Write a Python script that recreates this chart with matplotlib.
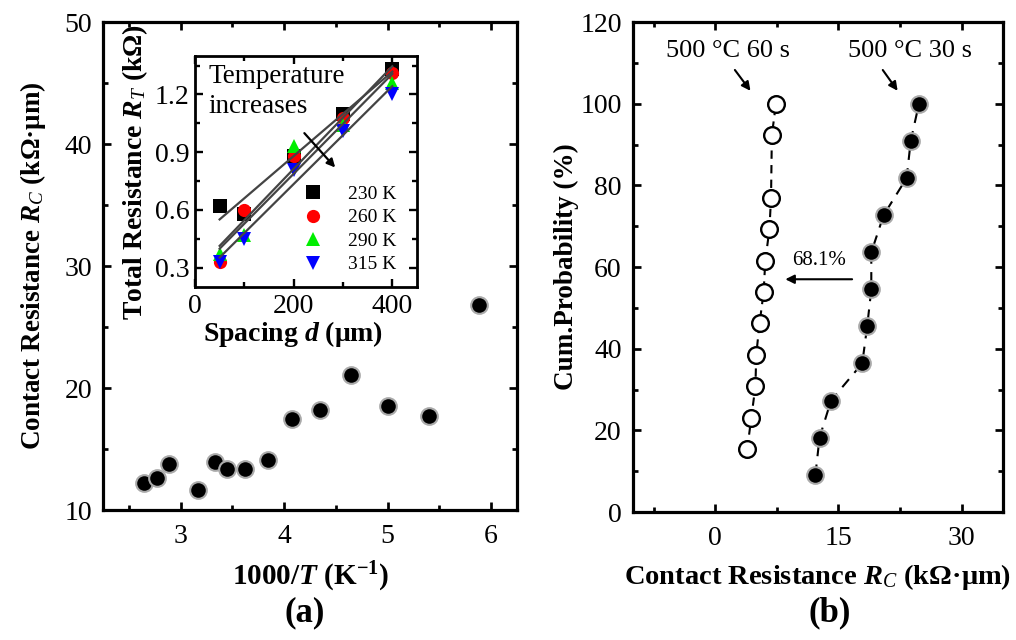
import matplotlib
matplotlib.use("Agg")
import matplotlib.pyplot as plt
import numpy as np

plt.rcParams['font.family'] = ['Liberation Serif', 'DejaVu Serif']
plt.rcParams['mathtext.fontset'] = 'custom'
plt.rcParams['mathtext.rm'] = 'Liberation Serif'
plt.rcParams['mathtext.it'] = 'Liberation Serif:italic'
plt.rcParams['mathtext.bf'] = 'Liberation Serif:bold'
plt.rcParams['mathtext.bfit'] = 'Liberation Serif:italic:bold'

# (a) contact resistance vs inverse temperature
inv_temp = [2.65, 2.77, 2.89, 3.17, 3.33, 3.45, 3.62, 3.84, 4.08, 4.35, 4.65, 5.00, 5.40, 5.88]
rc_temp = [12.2, 12.6, 13.8, 11.6, 13.9, 13.4, 13.4, 14.1, 17.5, 18.2, 21.1, 18.5, 17.7, 26.8]

# inset: TLM total resistance vs spacing
spacing = [50, 100, 200, 300, 400]
temp_labels = ['230 K', '260 K', '290 K', '315 K']
rt_230 = [0.62, 0.58, 0.88, 1.10, 1.33]
rt_260 = [0.33, 0.60, 0.88, 1.08, 1.31]
rt_290 = [0.37, 0.47, 0.93, 1.04, 1.26]
rt_315 = [0.33, 0.45, 0.81, 1.01, 1.20]

# (b) cumulative probability of contact resistance
prob_30s = [9.1, 18.2, 27.3, 36.4, 45.5, 54.5, 63.6, 72.7, 81.8, 90.9, 100.0]
rc_30s = [12.2, 12.7, 14.1, 17.9, 18.5, 19.0, 19.0, 20.5, 23.3, 23.8, 24.8]
prob_60s = [15.4, 23.1, 30.8, 38.5, 46.2, 53.8, 61.5, 69.2, 76.9, 92.3, 100.0]
rc_60s = [3.9, 4.4, 4.9, 5.0, 5.4, 5.9, 6.1, 6.6, 6.8, 6.9, 7.4]

TICK_FS = 20
LABEL_FS = 19.5


def style_axes(ax, lw=2.3, size=TICK_FS):
    for sp in ax.spines.values():
        sp.set_linewidth(lw)
    ax.tick_params(which='both', direction='in', top=True, right=True,
                   labelsize=size, width=lw * 0.85)
    ax.tick_params(which='major', length=6)
    ax.tick_params(which='minor', length=3.5)


fig = plt.figure(figsize=(10.16, 6.4), dpi=100)

# ---- panel (a)
ax1 = fig.add_axes([0.1014, 0.2031, 0.4075, 0.7625])
ax1.plot(inv_temp, rc_temp, 'o', ms=12, mfc='black', mec='#aaaaaa', mew=1.5)
ax1.set_xlim(2.25, 6.25)
ax1.set_ylim(10, 50)
ax1.set_xticks([3, 4, 5, 6])
ax1.set_xticks(np.arange(2.5, 6.01, 0.5), minor=True)
ax1.set_yticks([10, 20, 30, 40, 50])
ax1.set_yticks(np.arange(10, 50.1, 5), minor=True)
style_axes(ax1)
ax1.tick_params(axis='x', pad=10)
ax1.tick_params(axis='y', pad=8)
ax1.set_xlabel(r'1000/$\mathbfit{T}$ (K$^{\mathbf{-1}}$)', fontsize=21,
               fontweight='bold', labelpad=8)
ax1.set_ylabel(r'Contact Resistance $\mathbfit{R}_{\mathit{C}}$ (kΩ·μm)',
               fontsize=LABEL_FS, fontweight='bold', labelpad=12)
fig.text(0.30, 0.042, '(a)', fontsize=25, fontweight='bold', ha='center', va='center')

# ---- inset
ax_in = fig.add_axes([0.1919, 0.5516, 0.2185, 0.3609])
series = [
    (rt_230, 's', 'black'),
    (rt_260, 'o', 'red'),
    (rt_290, '^', '#00ee00'),
    (rt_315, 'v', 'blue'),
]
xs = np.array(spacing, dtype=float)
for (vals, mk, col), lab in zip(series, temp_labels):
    slope, icpt = np.polyfit(xs, vals, 1)
    ax_in.plot([xs[0], xs[-1]], [icpt + slope * xs[0], icpt + slope * xs[-1]],
               color='#444444', lw=1.6, zorder=3)
for (vals, mk, col), lab in zip(series, temp_labels):
    ax_in.plot(spacing, vals, mk, color=col, ms=9.5, mew=0, label=lab, zorder=2)
ax_in.set_xlim(0, 450)
ax_in.set_ylim(0.2, 1.4)
ax_in.set_xticks([0, 200, 400])
ax_in.set_xticks([100, 300], minor=True)
ax_in.set_yticks([0.3, 0.6, 0.9, 1.2])
ax_in.set_yticks([0.45, 0.75, 1.05, 1.35], minor=True)
style_axes(ax_in, lw=2.0, size=20)
ax_in.tick_params(axis='x', pad=5)
ax_in.tick_params(axis='y', pad=4)
ax_in.set_xlabel(r'Spacing $\mathbfit{d}$ (μm)', fontsize=20, fontweight='bold')
ax_in.xaxis.set_label_coords(0.44, -0.14)
ax_in.set_ylabel(r'Total Resistance $\mathbfit{R}_{\mathit{T}}$ (kΩ)',
                 fontsize=20, fontweight='bold', labelpad=3)
ax_in.legend(loc='lower right', bbox_to_anchor=(0.97, 0.0), frameon=False,
             fontsize=14, handletextpad=1.3, labelspacing=0.3, borderpad=0.2,
             handlelength=1.0)
ax_in.text(0.06, 0.965, 'Temperature\nincreases', transform=ax_in.transAxes,
           fontsize=19.5, ha='left', va='top', linespacing=1.25)
ax_in.annotate('', xy=(288, 0.81), xytext=(218, 1.01),
               arrowprops=dict(arrowstyle='-|>', color='black', lw=1.6,
                               mutation_scale=12))

# ---- panel (b)
ax2 = fig.add_axes([0.623, 0.2, 0.364, 0.7656])
ax2.plot(rc_60s, prob_60s, 'o', ls=(0, (4, 3)), color='black', lw=1.5,
         ms=12, mfc='white', mec='black', mew=1.7)
ax2.plot(rc_30s, prob_30s, 'o', ls=(0, (5, 4)), color='black', lw=1.5,
         ms=12, mfc='black', mec='#aaaaaa', mew=1.5)
ax2.set_xlim(-10, 35)
ax2.set_ylim(0, 120)
ax2.set_xticks([0, 15, 30])
ax2.set_xticks([-7.5, 7.5, 22.5], minor=True)
ax2.set_yticks(np.arange(0, 121, 20))
ax2.set_yticks(np.arange(10, 120, 20), minor=True)
style_axes(ax2)
ax2.tick_params(axis='x', pad=10)
ax2.tick_params(axis='y', pad=8)
ax2.set_xlabel(r'Contact Resistance $\mathbfit{R}_{\mathit{C}}$ (kΩ·μm)',
               fontsize=20.5, fontweight='bold', labelpad=8)
ax2.set_ylabel('Cum.Probability (%)', fontsize=LABEL_FS, fontweight='bold',
               labelpad=1)

ax2.text(1.6, 113, '500 °C 60 s', fontsize=19, ha='center', va='center')
ax2.text(23.7, 113, '500 °C 30 s', fontsize=19, ha='center', va='center')
arrow_kw = dict(arrowstyle='-|>', color='black', lw=1.5, mutation_scale=13)
ax2.annotate('', xy=(4.5, 102.6), xytext=(2.2, 108.8), arrowprops=arrow_kw)
ax2.annotate('', xy=(22.4, 102.6), xytext=(20.2, 108.8), arrowprops=arrow_kw)
ax2.annotate('', xy=(8.2, 57), xytext=(17.0, 57), arrowprops=arrow_kw)
ax2.text(12.7, 61.7, '68.1%', fontsize=15, ha='center', va='center')
fig.text(0.817, 0.042, '(b)', fontsize=25, fontweight='bold', ha='center', va='center')

fig.savefig('out.png', dpi=100)
